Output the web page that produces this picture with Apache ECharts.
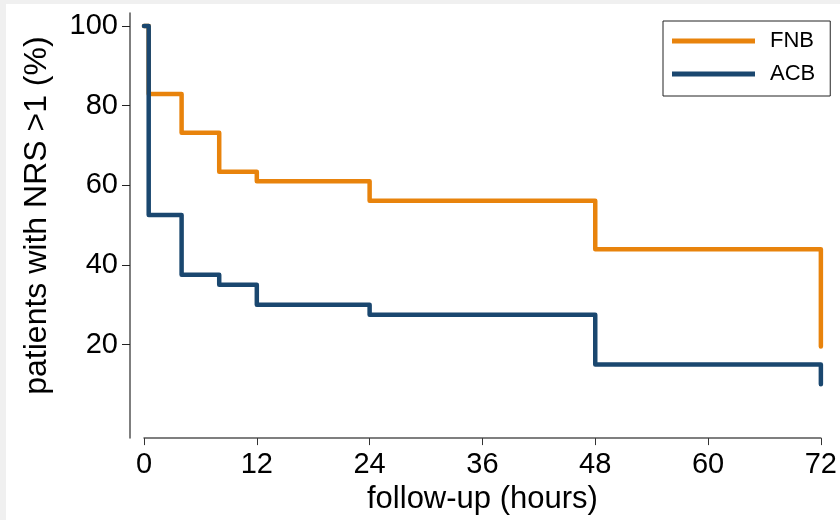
<!DOCTYPE html>
<html>
<head>
<meta charset="utf-8">
<script src="https://cdn.jsdelivr.net/npm/echarts@6/dist/echarts.min.js"></script>
<style>
  html, body { margin: 0; padding: 0; background: #f0f0f0; }
  #chart { width: 840px; height: 520px; }
</style>
</head>
<body>
<div id="chart"></div>
<script>
  // follow-up time points (hours) and % of patients with NRS > 1
  var times = [0, 0.5, 4, 8, 12, 24, 48, 72];
  var fnb = [100, 82.9, 73.2, 63.4, 61.0, 56.1, 43.9, 19.5];
  var acb = [100, 52.5, 37.5, 35.0, 30.0, 27.5, 15.0, 10.0];
  var xTicks = [0, 12, 24, 36, 48, 60, 72];
  var yTicks = [20, 40, 60, 80, 100];
  var seriesNames = ['FNB', 'ACB'];

  function toPairs(vals) {
    return times.map(function (t, i) { return [t, vals[i]]; });
  }

  var font = 'Liberation Sans, Arial, sans-serif';
  var myChart = echarts.init(document.getElementById('chart'));
  var option = {
    animation: false,
    backgroundColor: 'transparent',
    textStyle: { fontFamily: font },
    graphic: [{
      type: 'rect',
      z: -10,
      silent: true,
      shape: { x: 6, y: 4, width: 834, height: 516 },
      style: { fill: '#ffffff' }
    }],
    grid: {
      left: 144,
      right: 15,
      top: 13,
      bottom: 80
    },
    legend: {
      data: seriesNames,
      orient: 'vertical',
      left: 663,
      top: 21,
      padding: [9, 15, 11, 9],
      itemGap: 11,
      itemWidth: 83,
      itemHeight: 5,
      icon: 'rect',
      borderColor: '#222',
      borderWidth: 1,
      textStyle: {
        color: '#000',
        fontSize: 22,
        fontFamily: font,
        padding: [0, 0, 0, 10]
      }
    },
    xAxis: {
      type: 'value',
      min: 0,
      max: 72,
      interval: 12,
      name: 'follow-up (hours)',
      nameLocation: 'middle',
      nameGap: 40,
      nameTextStyle: { color: '#000', fontSize: 31, fontFamily: font },
      axisLine: { show: true, onZero: false, lineStyle: { color: '#555', width: 1.5 } },
      axisTick: { show: true, length: 7, customValues: xTicks, lineStyle: { color: '#333' } },
      axisLabel: { color: '#000', fontSize: 29, margin: 12, customValues: xTicks, fontFamily: font },
      splitLine: { show: false }
    },
    yAxis: {
      type: 'value',
      min: -3.5,
      max: 103.25,
      offset: 14,
      name: 'patients with NRS >1 (%)',
      nameLocation: 'middle',
      nameGap: 77,
      nameTextStyle: { color: '#000', fontSize: 32, fontFamily: font, padding: [0, 0, 0, 20] },
      axisLine: { show: true, onZero: false, lineStyle: { color: '#555', width: 1.5 } },
      axisTick: { show: true, length: 8, customValues: yTicks, lineStyle: { color: '#222' } },
      axisLabel: { color: '#000', fontSize: 29, margin: 12, customValues: yTicks, fontFamily: font },
      splitLine: { show: false }
    },
    series: [
      {
        name: 'FNB',
        type: 'line',
        step: 'end',
        data: toPairs(fnb),
        showSymbol: false,
        symbol: 'none',
        color: '#e8830c',
        lineStyle: { width: 4.5, color: '#e8830c', cap: 'round', join: 'round' },
        z: 2
      },
      {
        name: 'ACB',
        type: 'line',
        step: 'end',
        data: toPairs(acb),
        showSymbol: false,
        symbol: 'none',
        color: '#1a476f',
        lineStyle: { width: 4.5, color: '#1a476f', cap: 'round', join: 'round' },
        z: 3
      }
    ]
  };
  myChart.setOption(option);
</script>
</body>
</html>
